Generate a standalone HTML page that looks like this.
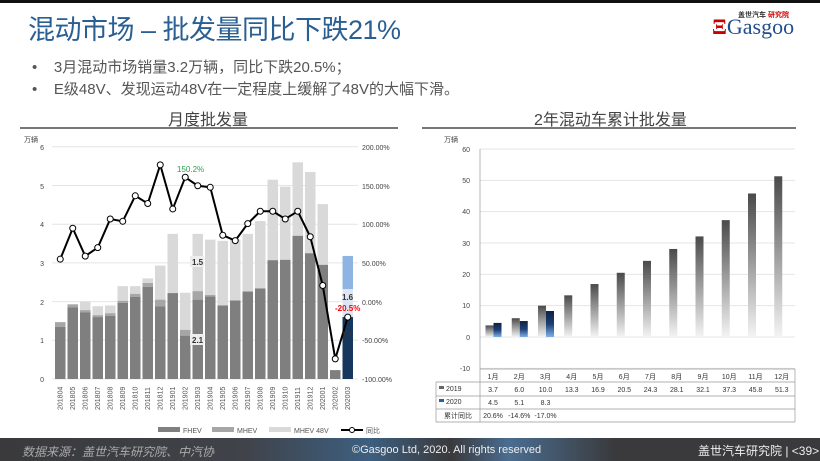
<!DOCTYPE html>
<html><head><meta charset="utf-8"><style>
body{margin:0;width:820px;height:461px;overflow:hidden;background:#fff;font-family:"Liberation Sans","Noto Sans CJK SC",sans-serif;position:relative}
.t{position:absolute;white-space:nowrap}
</style></head><body>
<div style="position:absolute;left:0;top:0;width:820px;height:3px;background:#111"></div>
<div class="t" style="left:28px;top:8px;font-size:27px;color:#2a5f93;letter-spacing:-0.5px">混动市场 – 批发量同比下跌21%</div>
<div class="t" style="left:738px;top:10px;font-size:7px;color:#333;font-weight:bold">盖世汽车 <span style="color:#c00">研究院</span></div>
<div class="t" style="left:712px;top:14px;font-size:22px;color:#1f4e8c;font-family:'Liberation Serif',serif"><span style="color:#c00;font-weight:bold">Ξ</span>Gasgoo</div>
<div class="t" style="left:32px;top:56px;font-size:15px;color:#555">•&nbsp;&nbsp;&nbsp;&nbsp;3月混动市场销量3.2万辆，同比下跌20.5%；</div>
<div class="t" style="left:32px;top:78px;font-size:15px;color:#555">•&nbsp;&nbsp;&nbsp;&nbsp;E级48V、发现运动48V在一定程度上缓解了48V的大幅下滑。</div>
<div class="t" style="left:168px;top:106px;font-size:16px;color:#444">月度批发量</div>
<div class="t" style="left:534px;top:106px;font-size:16px;color:#444">2年混动车累计批发量</div>
<div style="position:absolute;left:20px;top:127px;width:378px;height:2px;background:#777"></div>
<div style="position:absolute;left:422px;top:127px;width:374px;height:2px;background:#777"></div>

<svg id="s" width="820" height="461" style="position:absolute;left:0;top:0" font-family="Liberation Sans, Noto Sans CJK SC, sans-serif">
<defs>
<linearGradient id="g19" x1="0" y1="0" x2="0" y2="1"><stop offset="0" stop-color="#4a4a4a"/><stop offset="1" stop-color="#f4f4f4"/></linearGradient>
<linearGradient id="g20" x1="0" y1="0" x2="0" y2="1"><stop offset="0" stop-color="#0d2244"/><stop offset="0.5" stop-color="#1d3f72"/><stop offset="1" stop-color="#7fb0ea"/></linearGradient>
</defs>
<g id="lg" stroke="#e4e4e4" stroke-width="1"></g>
<g id="lb"></g>
<g id="rg" stroke="#e4e4e4" stroke-width="1"></g>
<g id="rb"></g>
<g font-size="7" fill="#444">
<text x="24" y="142">万辆</text>
<text x="44" y="382" text-anchor="end">0</text><text x="44" y="343" text-anchor="end">1</text><text x="44" y="305" text-anchor="end">2</text><text x="44" y="266" text-anchor="end">3</text><text x="44" y="227" text-anchor="end">4</text><text x="44" y="189" text-anchor="end">5</text><text x="44" y="150" text-anchor="end">6</text>
<text x="362" y="150">200.00%</text><text x="362" y="189">150.00%</text><text x="362" y="227">100.00%</text><text x="362" y="266">50.00%</text><text x="362" y="305">0.00%</text><text x="362" y="343">-50.00%</text><text x="362" y="382">-100.00%</text>
</g>
<g id="xl" font-size="7" fill="#555"></g>
<g font-size="8" font-weight="bold" fill="#333">
<rect x="190" y="256" width="14" height="11" fill="#eee"/><text x="192" y="265">1.5</text>
<rect x="190" y="334" width="14" height="11" fill="#eee"/><text x="192" y="343">2.1</text>
<text x="342" y="300">1.6</text><text x="342" y="338">1.6</text>
<text x="335" y="311" fill="#f00" font-size="8">-20.5%</text>
<text x="177" y="172" fill="#2aa34a" font-size="8" font-weight="normal">150.2%</text>
</g>
<g font-size="7" fill="#555">
<rect x="158" y="427" width="22" height="5" fill="#7f7f7f"/><text x="183" y="433">FHEV</text>
<rect x="212" y="427" width="22" height="5" fill="#a6a6a6"/><text x="237" y="433">MHEV</text>
<rect x="269" y="427" width="22" height="5" fill="#d9d9d9"/><text x="294" y="433">MHEV 48V</text>
<line x1="341" y1="430" x2="363" y2="430" stroke="#000" stroke-width="2"/><circle cx="352" cy="430" r="2.5" fill="#fff" stroke="#000"/><text x="366" y="433">同比</text>
</g>
<g font-size="7" fill="#444">
<text x="444" y="142">万辆</text>
<text x="470" y="152" text-anchor="end">60</text><text x="470" y="183" text-anchor="end">50</text><text x="470" y="214" text-anchor="end">40</text><text x="470" y="246" text-anchor="end">30</text><text x="470" y="277" text-anchor="end">20</text><text x="470" y="308" text-anchor="end">10</text><text x="470" y="340" text-anchor="end">0</text><text x="470" y="371" text-anchor="end">-10</text>
</g>
<g stroke="#999" stroke-width="0.7" fill="none">
<line x1="480" y1="149" x2="480" y2="422"/>
<line x1="480" y1="369" x2="795" y2="369"/>
<line x1="436" y1="382" x2="795" y2="382"/><line x1="436" y1="396" x2="795" y2="396"/><line x1="436" y1="409" x2="795" y2="409"/><line x1="436" y1="422" x2="795" y2="422"/>
<line x1="436" y1="382" x2="436" y2="422"/><line x1="795" y1="369" x2="795" y2="422"/>
</g>
<g id="tb" font-size="7" fill="#333" text-anchor="middle"></g>
<g font-size="7" fill="#333">
<rect x="439" y="386" width="5" height="3" fill="#666"/><text x="446" y="391">2019</text>
<rect x="439" y="399" width="5" height="3" fill="#2a5fa0"/><text x="446" y="404">2020</text>
<text x="444" y="418">累计同比</text>
</g>
</svg>
<div style="position:absolute;left:0;top:438px;width:820px;height:23px;background:linear-gradient(90deg,#3a3a3c 0%,#40434a 30%,#3d5f80 45%,#3a3a3c 55%,#4a6d90 62%,#3a3a3c 75%,#3a3a3c 100%)"></div>
<div class="t" style="left:22px;top:443px;font-size:12px;color:#aaa;font-style:italic">数据来源：盖世汽车研究院、中汽协</div>
<div class="t" style="left:352px;top:444px;font-size:11px;color:#eee">©Gasgoo Ltd, 2020. All rights reserved</div>
<div class="t" style="left:698px;top:442px;font-size:12px;color:#eee">盖世汽车研究院 | &lt;39&gt;</div>
<script>
const N='http://www.w3.org/2000/svg';
function el(p,t,a){const e=document.createElementNS(N,t);for(const k in a)e.setAttribute(k,a[k]);document.getElementById(p).appendChild(e);return e;}
for(let k=1;k<=6;k++){const y=379-38.7*k;el('lg','line',{x1:52,y1:y,x2:358,y2:y});}
el('lg','line',{x1:52,y1:379,x2:358,y2:379});
const d=[[1.35,1.47,1.47],[1.85,1.93,1.93],[1.72,1.78,2.0],[1.6,1.65,1.88],[1.63,1.7,1.9],[1.97,2.02,2.4],[2.12,2.2,2.4],[2.38,2.48,2.6],[1.88,2.05,2.93],[2.22,2.22,3.75],[1.12,1.27,2.23],[2.05,2.27,3.75],[2.13,2.17,3.6],[1.9,1.9,3.57],[2.02,2.04,3.6],[2.26,2.26,3.75],[2.34,2.34,4.08],[3.07,3.07,5.15],[3.08,3.08,4.97],[3.7,3.7,5.6],[3.25,3.25,5.35],[2.95,2.95,4.52],[0.23,0.23,0.23]];
const Y=v=>379-38.7*v;
const lbl=['201804','201805','201806','201807','201808','201809','201810','201811','201812','201901','201902','201903','201904','201905','201906','201907','201908','201909','201910','201911','201912','202001','202002','202003'];
for(let i=0;i<24;i++){const x=55+12.5*i;
 if(i<23){const [a,b,c]=d[i];
  el('lb','rect',{x:x,y:Y(c),width:10.5,height:Y(b)-Y(c),fill:'#d9d9d9'});
  el('lb','rect',{x:x,y:Y(b),width:10.5,height:Y(a)-Y(b),fill:'#a6a6a6'});
  el('lb','rect',{x:x,y:Y(a),width:10.5,height:379-Y(a),fill:'#7f7f7f'});
 } else {
  el('lb','rect',{x:x,y:Y(3.18),width:10.5,height:Y(2.32)-Y(3.18),fill:'#8db4e2'});
  el('lb','rect',{x:x,y:Y(2.32),width:10.5,height:Y(1.6)-Y(2.32),fill:'#dde6f2'});
  el('lb','rect',{x:x,y:Y(1.6),width:10.5,height:379-Y(1.6),fill:'#17365d'});
 }
 const cx=x+7.5;const t=el('xl','text',{x:cx,y:410,transform:`rotate(-90 ${cx} 410)`});t.textContent=lbl[i];
}
const p=[55,95,59,70,107,104,137,127,177,120,161,150,148,86,79,101,117,117,107,117,84,21,-74,-20];
const pts=p.map((v,i)=>[60.25+12.5*i,301.7-v*0.773]);
el('lb','polyline',{points:pts.map(q=>q.join(',')).join(' '),fill:'none',stroke:'#000','stroke-width':2});
pts.forEach(q=>el('lb','circle',{cx:q[0],cy:q[1],r:3,fill:'#fff',stroke:'#000','stroke-width':1}));
for(let k=-1;k<=6;k++){const y=337-31.33*k;el('rg','line',{x1:480,y1:y,x2:795,y2:y});}
const a19=[3.7,6.0,10.0,13.3,16.9,20.5,24.3,28.1,32.1,37.3,45.8,51.3],a20=[4.5,5.1,8.3],yy=['20.6%','-14.6%','-17.0%'];
const RY=v=>337-3.133*v;
for(let i=0;i<12;i++){const x=480+26.25*i;
 el('rb','rect',{x:x+5.5,y:RY(a19[i]),width:8,height:337-RY(a19[i]),fill:'url(#g19)'});
 if(i<3)el('rb','rect',{x:x+13.5,y:RY(a20[i]),width:8,height:337-RY(a20[i]),fill:'url(#g20)'});
 const c=x+13;
 el('tb','text',{x:c,y:379}).textContent=(i+1)+'月';
 el('tb','text',{x:c,y:392}).textContent=a19[i].toFixed(1);
 if(i<3){el('tb','text',{x:c,y:405}).textContent=a20[i].toFixed(1);el('tb','text',{x:c,y:418}).textContent=yy[i];}
}
</script>
</body></html>
